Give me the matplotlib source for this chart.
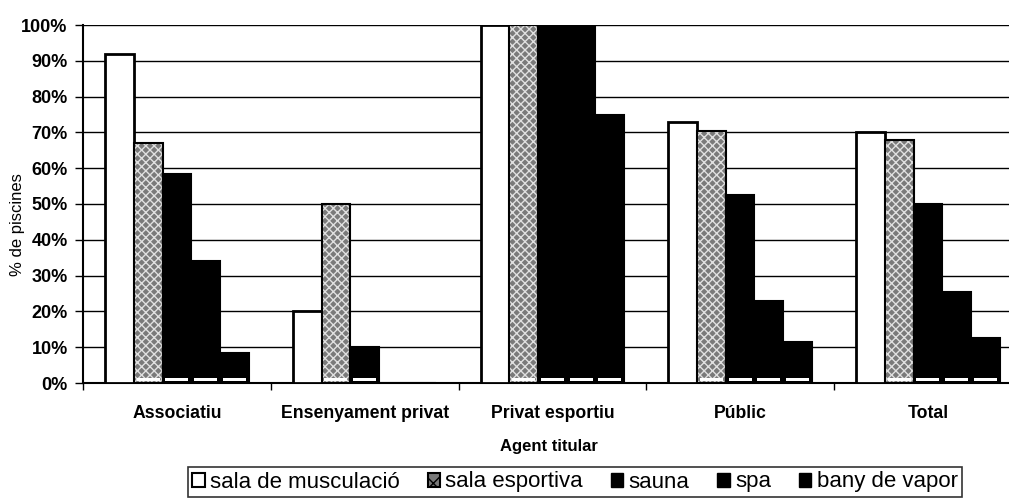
import numpy as np
import matplotlib
matplotlib.use("Agg")
import matplotlib.pyplot as plt
from matplotlib.patches import Patch
from matplotlib.ticker import FixedLocator, NullFormatter

plt.rcParams['font.family'] = ['Liberation Sans', 'DejaVu Sans']

# dades llegides del gràfic
agents = ['Associatiu', 'Ensenyament privat', 'Privat esportiu', 'Públic', 'Total']
series = ['sala de musculació', 'sala esportiva', 'sauna', 'spa', 'bany de vapor']
musculacio = [92, 20, 100, 73, 70]
esportiva = [67, 50, 100, 70.5, 68]
sauna = [58.5, 10, 100, 52.5, 50]
spa = [34, 0, 100, 23, 25.5]
vapor = [8.5, 0, 75, 11.5, 12.5]
valors = [musculacio, esportiva, sauna, spa, vapor]

W, H = 1009, 500
fig = plt.figure(figsize=(W / 100, H / 100), dpi=100)
ax = fig.add_axes([83 / W, (H - 383) / H, (W - 83) / W, (383 - 25) / H])

x = np.arange(len(agents))
bw = 0.153
for i, vals in enumerate(valors):
    pos = x + (i - 2) * bw
    vals = np.array(vals, dtype=float)
    if i == 0:
        ax.bar(pos, vals, bw, color='white', edgecolor='black', lw=2, zorder=3)
    elif i == 1:
        ax.bar(pos, vals, bw, color='#7a7a7a', edgecolor='#e0e0e0', hatch='xxxx', lw=0, zorder=3)
        ax.bar(pos, vals, bw, color='none', edgecolor='black', lw=1.5, zorder=4)
    else:
        ax.bar(pos, vals, bw, color='black', edgecolor='black', lw=1.5, zorder=3)
    # franja blanca prop de la base (com a l'original)
    if i > 0:
        m = vals > 0
        ax.bar(pos[m], [0.8] * m.sum(), bw * 0.8, bottom=0.5, color='white', lw=0, zorder=5)

ax.set_xlim(-0.5, -0.5 + (W - 83) / 187.75)
ax.set_ylim(0, 100)
ax.set_yticks(np.arange(0, 101, 10))
ax.set_yticklabels([f'{v}%' for v in range(0, 101, 10)], fontsize=13, fontweight='bold')
ax.yaxis.grid(True, color='black', lw=1)
ax.set_axisbelow(True)

ax.set_xticks(x)
ax.set_xticklabels(agents, fontsize=12.7, fontweight='bold')
ax.tick_params(axis='x', length=0, pad=16)
ax.xaxis.set_minor_locator(FixedLocator(np.arange(-0.5, 4.6, 1)))
ax.xaxis.set_minor_formatter(NullFormatter())
ax.tick_params(axis='x', which='minor', length=5, width=1, direction='out')
ax.tick_params(axis='y', length=6, width=1, direction='out', pad=5)

for s in ['top', 'right']:
    ax.spines[s].set_visible(False)
ax.spines['left'].set_linewidth(1.5)
ax.spines['bottom'].set_linewidth(1.5)

# etiquetes dels eixos en coordenades de figura
fig.text(18 / W, (H - 225) / H, '% de piscines', fontsize=12, rotation=90,
         ha='center', va='center')
fig.text(549 / W, (H - 447) / H, 'Agent titular', fontsize=12, fontweight='bold',
         ha='center', va='center')

handles = [
    Patch(facecolor='white', edgecolor='black', lw=1.5, label=series[0]),
    Patch(facecolor='#7a7a7a', edgecolor='black', hatch='xx', lw=1.5, label=series[1]),
    Patch(facecolor='black', edgecolor='black', label=series[2]),
    Patch(facecolor='black', edgecolor='black', label=series[3]),
    Patch(facecolor='black', edgecolor='black', label=series[4]),
]
leg = fig.legend(handles=handles, loc='center', bbox_to_anchor=(575 / W, (H - 482) / H),
                 ncol=5, fontsize=16, frameon=True, fancybox=False, edgecolor='black',
                 handlelength=0.55, handleheight=0.6, handletextpad=0.25, columnspacing=1.25,
                 borderpad=0.2, borderaxespad=0)
leg.get_frame().set_linewidth(1.2)

fig.savefig('out.png', dpi=100)
